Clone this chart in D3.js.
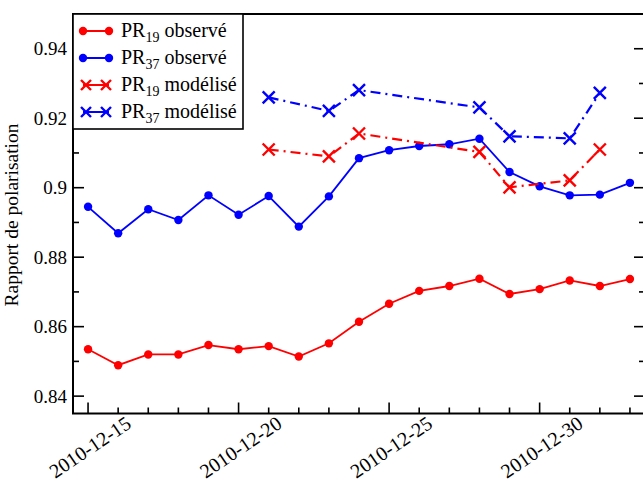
<!DOCTYPE html>
<html>
<head>
<meta charset="utf-8">
<script src="https://cdn.jsdelivr.net/npm/d3@7"></script>
<style>
  html, body { margin: 0; padding: 0; background: #fff; }
  svg { display: block; }
</style>
</head>
<body>
<svg id="chart" width="643" height="483" font-family="'Liberation Serif', 'DejaVu Serif', 'Times New Roman', Times, serif"></svg>
<script>
// ---- Data ----
const obsDates = ["2010-12-15","2010-12-16","2010-12-17","2010-12-18","2010-12-19","2010-12-20","2010-12-21","2010-12-22","2010-12-23","2010-12-24","2010-12-25","2010-12-26","2010-12-27","2010-12-28","2010-12-29","2010-12-30","2010-12-31","2011-01-01","2011-01-02"];
const pr19Obs = [0.8535,0.8489,0.8520,0.8520,0.8547,0.8535,0.8544,0.8514,0.8552,0.8614,0.8666,0.8703,0.8717,0.8738,0.8694,0.8708,0.8733,0.8717,0.8737];
const pr37Obs = [0.8945,0.8869,0.8938,0.8907,0.8978,0.8922,0.8976,0.8888,0.8975,0.9085,0.9108,0.9120,0.9125,0.9141,0.9045,0.9004,0.8978,0.8980,0.9014];
const modDates = ["2010-12-21","2010-12-23","2010-12-24","2010-12-28","2010-12-29","2010-12-31","2011-01-01"];
const pr19Mod = [0.9110,0.9090,0.9156,0.9103,0.9001,0.9021,0.9110];
const pr37Mod = [0.9260,0.9221,0.9281,0.9231,0.9148,0.9142,0.9273];
const yMajorTicks = [0.84,0.86,0.88,0.90,0.92,0.94];
const yTickLabels = ["0.84","0.86","0.88","0.9","0.92","0.94"];
const xLabelDates = ["2010-12-15","2010-12-20","2010-12-25","2010-12-30"];
const yTitle = "Rapport de polarisation";

const series = [
  {name:"19", suffix:" observé", dates:obsDates, values:pr19Obs, color:"#ff0000", kind:"obs"},
  {name:"37", suffix:" observé", dates:obsDates, values:pr37Obs, color:"#0000ff", kind:"obs"},
  {name:"19", suffix:" modélisé", dates:modDates, values:pr19Mod, color:"#ff0000", kind:"mod"},
  {name:"37", suffix:" modélisé", dates:modDates, values:pr37Mod, color:"#0000ff", kind:"mod"}
];

const FONT = "'Liberation Serif', 'DejaVu Serif', 'Times New Roman', Times, serif";

// ---- Layout ----
const svg = d3.select("#chart");
const L = 73, R = 645, T = 14, B = 413.5;
const parse = d3.utcParse("%Y-%m-%d");
const x = d3.scaleUtc()
  .domain([new Date(Date.UTC(2010,11,14,12)), new Date(Date.UTC(2011,0,2,12))])
  .range([L, R]);
const y = d3.scaleLinear().domain([0.835, 0.95]).range([B, T]);

// frame
svg.append("rect").attr("x", L).attr("y", T).attr("width", R - L).attr("height", B - T)
  .attr("fill", "none").attr("stroke", "#000").attr("stroke-width", 2);

const yMinorVals = [0.85,0.87,0.89,0.91,0.93];
[L, R].forEach((xx, i) => {
  const dir = i === 0 ? 1 : -1;
  svg.append("g").selectAll("line").data(yMajorTicks).join("line")
    .attr("x1", xx).attr("x2", xx + dir * 11)
    .attr("y1", d => y(d)).attr("y2", d => y(d))
    .attr("stroke", "#000").attr("stroke-width", 1.6);
  svg.append("g").selectAll("line").data(yMinorVals).join("line")
    .attr("x1", xx).attr("x2", xx + dir * 6)
    .attr("y1", d => y(d)).attr("y2", d => y(d))
    .attr("stroke", "#000").attr("stroke-width", 1.6);
});
// Y labels
svg.append("g").selectAll("text").data(yMajorTicks).join("text")
  .attr("x", L - 6).attr("y", d => y(d)).attr("dy", "0.35em")
  .attr("text-anchor", "end").attr("font-size", 19).style("font-family", FONT)
  .text((d, i) => yTickLabels[i]);

// X ticks
const majorSet = new Set(xLabelDates);
svg.append("g").selectAll("line").data(obsDates).join("line")
  .attr("x1", d => x(parse(d))).attr("x2", d => x(parse(d)))
  .attr("y1", B).attr("y2", d => B - (majorSet.has(d) ? 11 : 6))
  .attr("stroke", "#000").attr("stroke-width", 1.6);
// X labels (rotated)
svg.append("g").selectAll("text").data(xLabelDates).join("text")
  .attr("transform", d => `translate(${x(parse(d)) + 2},${447}) rotate(-34)`)
  .attr("text-anchor", "middle").attr("dy", "0.35em").attr("font-size", 20).style("font-family", FONT)
  .text(d => d);

// Y title
svg.append("text").attr("transform", `translate(18,215) rotate(-90)`)
  .attr("text-anchor", "middle").attr("font-size", 19.5).style("font-family", FONT).text(yTitle);

// ---- Series ----
const line = d3.line().x(d => x(d[0])).y(d => y(d[1]));
function drawX(g, cx, cy, color, s) {
  g.append("path").attr("d", `M${cx - s},${cy - s}L${cx + s},${cy + s}M${cx - s},${cy + s}L${cx + s},${cy - s}`)
    .attr("stroke", color).attr("stroke-width", 2.4).attr("fill", "none");
}
series.forEach(s => {
  const pts = s.dates.map((d, i) => [parse(d), s.values[i]]);
  const g = svg.append("g");
  g.append("path").datum(pts).attr("d", line).attr("fill", "none")
    .attr("stroke", s.color).attr("stroke-width", s.kind === "obs" ? 1.8 : 2.2)
    .attr("stroke-dasharray", s.kind === "obs" ? null : "10,5,2,5");
  if (s.kind === "obs") {
    g.selectAll("circle").data(pts).join("circle")
      .attr("cx", d => x(d[0])).attr("cy", d => y(d[1])).attr("r", 4.2).attr("fill", s.color);
  } else {
    pts.forEach(p => drawX(g, x(p[0]), y(p[1]), s.color, 6));
  }
});

// ---- Legend ----
const lg = svg.append("g");
lg.append("rect").attr("x", L).attr("y", T).attr("width", 170).attr("height", 115)
  .attr("fill", "#fff").attr("stroke", "#000").attr("stroke-width", 1.6);
const rowY = [31, 58, 85, 112];
series.forEach((s, i) => {
  const cy = rowY[i];
  lg.append("line").attr("x1", 83).attr("x2", 109).attr("y1", cy).attr("y2", cy)
    .attr("stroke", s.color).attr("stroke-width", 2);
  if (s.kind === "obs") {
    [83, 109].forEach(cx => lg.append("circle").attr("cx", cx).attr("cy", cy).attr("r", 4.2).attr("fill", s.color));
  } else {
    [86, 106].forEach(cx => drawX(lg, cx, cy, s.color, 5));
  }
  const t = lg.append("text").attr("x", 121).attr("y", cy + 6).attr("font-size", 20).style("font-family", FONT);
  t.append("tspan").text("PR");
  t.append("tspan").attr("font-size", 14).attr("dy", 5).text(s.name);
  t.append("tspan").attr("dy", -5).text(s.suffix);
});
</script>
</body>
</html>
